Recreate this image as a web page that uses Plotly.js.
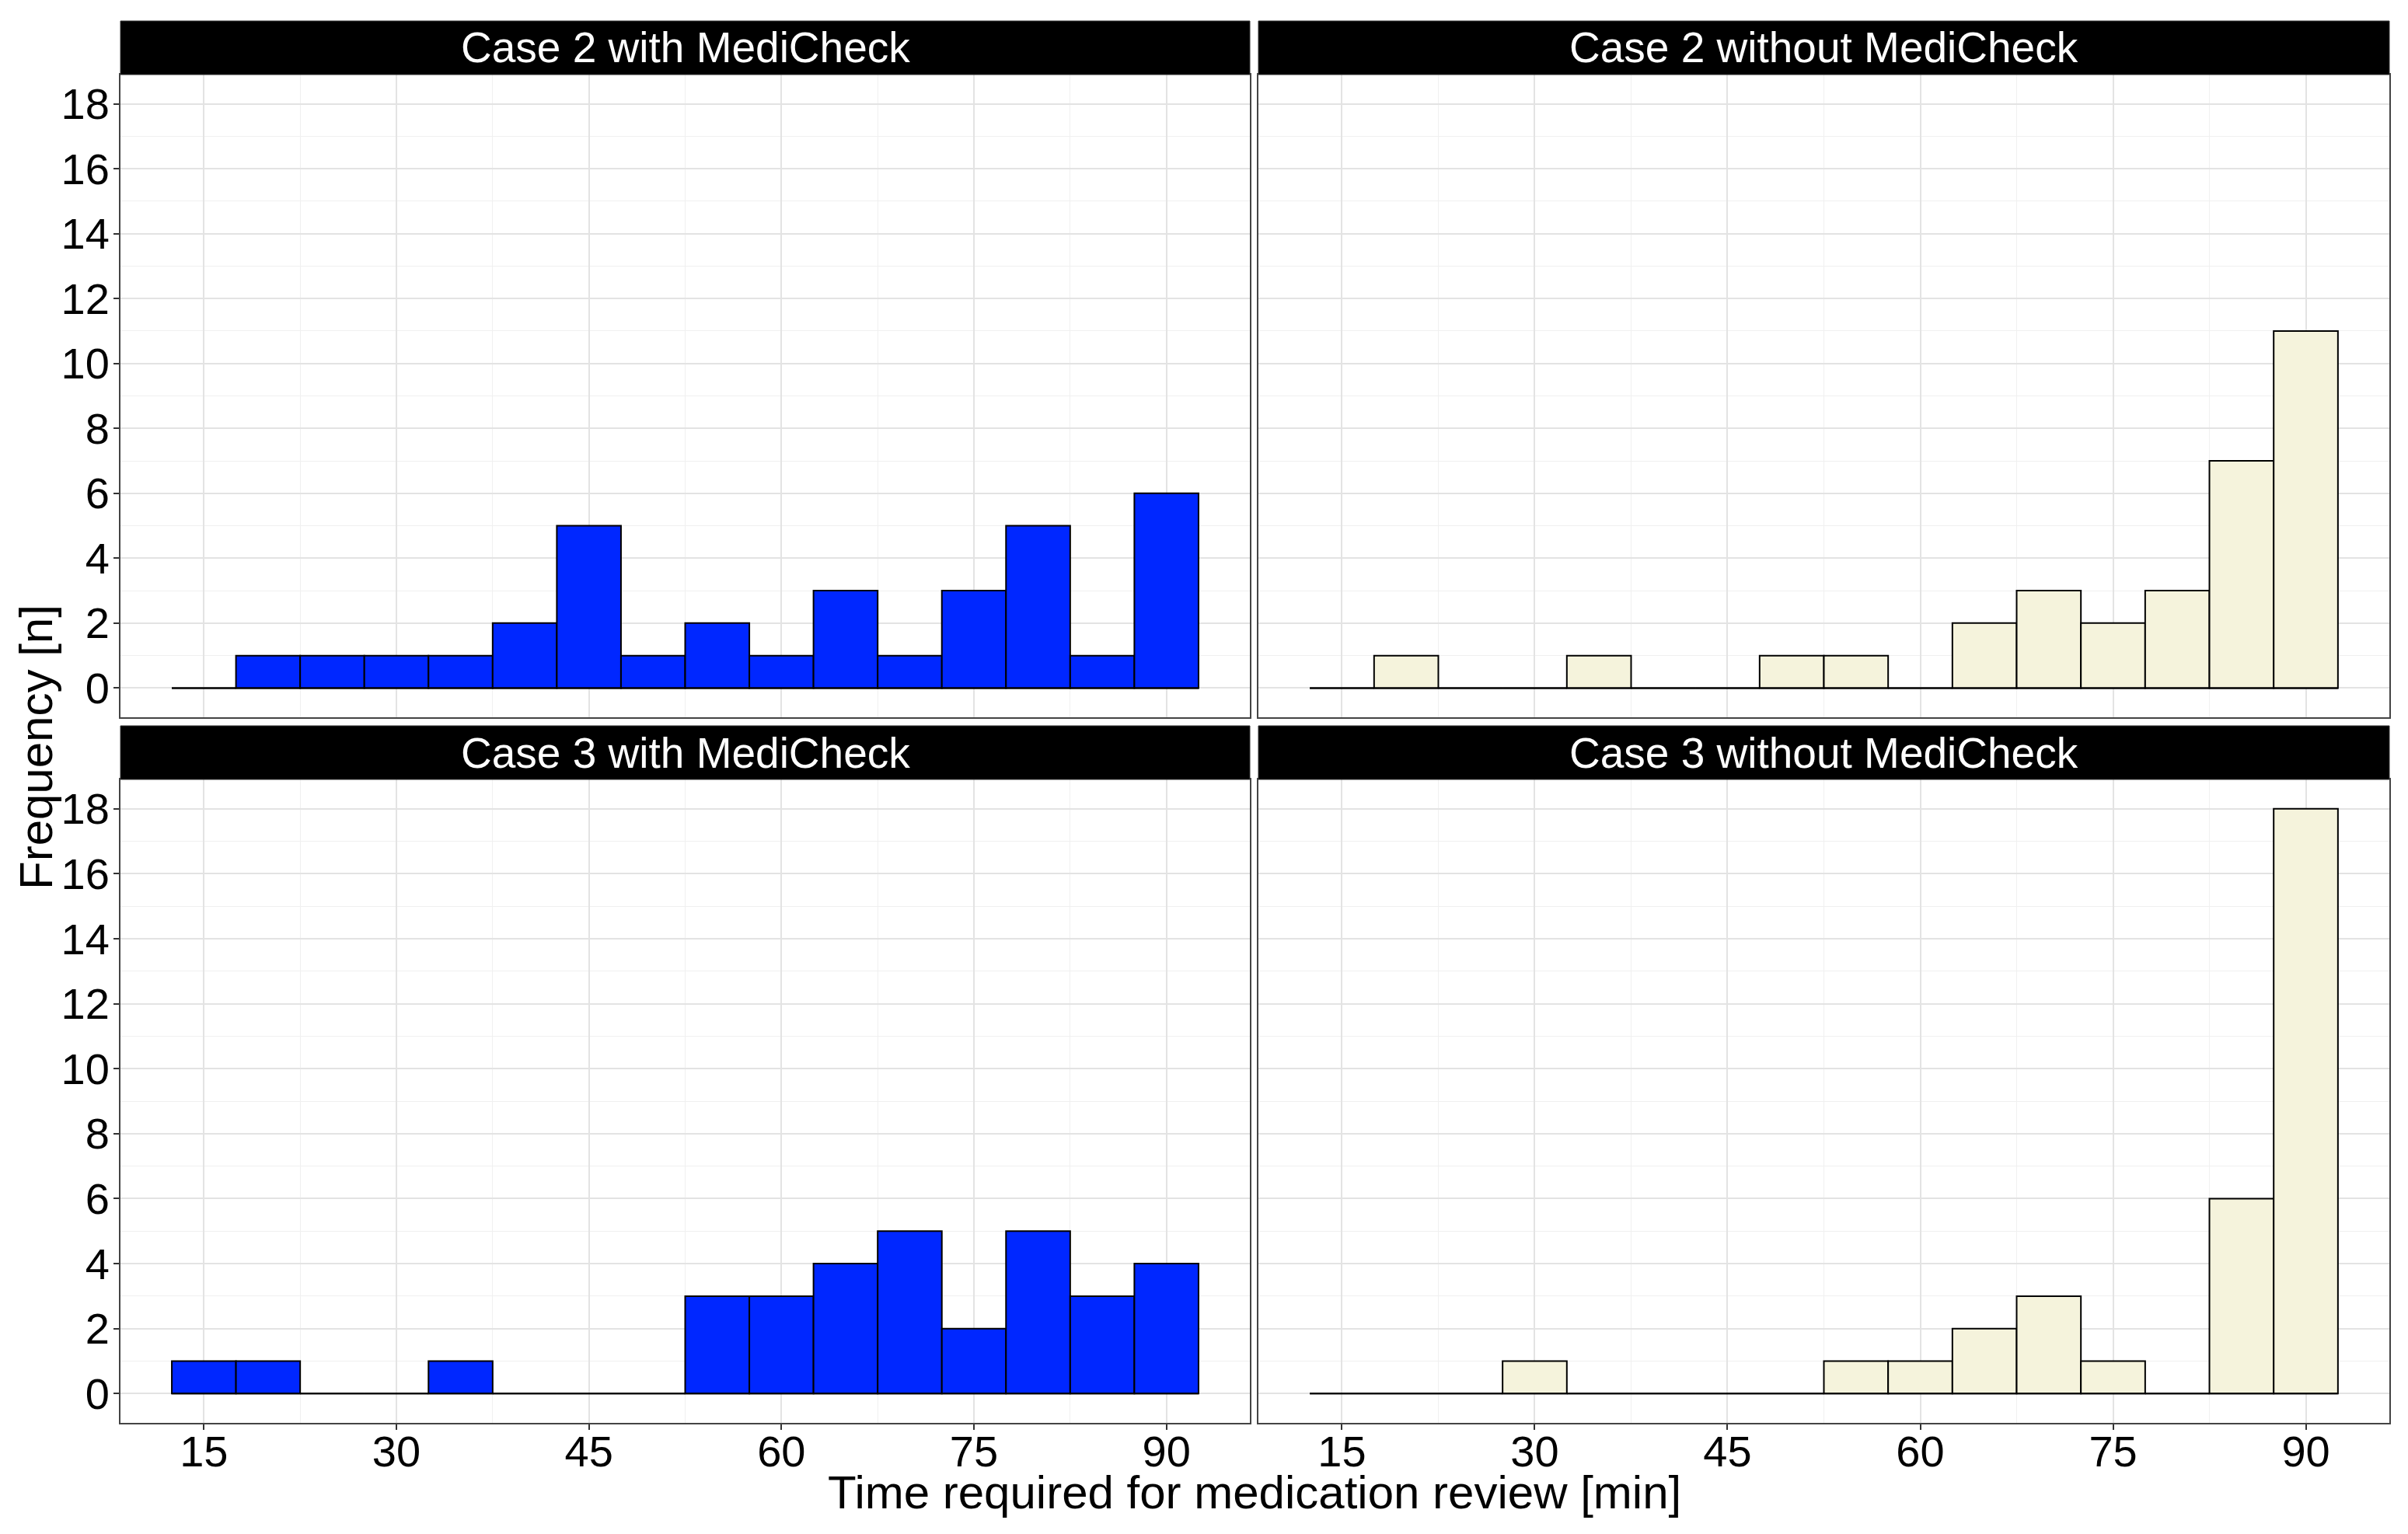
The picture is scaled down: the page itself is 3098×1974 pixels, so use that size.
<!DOCTYPE html>
<html>
<head>
<meta charset="utf-8">
<script src="https://cdn.plot.ly/plotly-3.0.1.min.js"></script>
<style>
  html, body { margin: 0; padding: 0; background: #ffffff; }
  #chart { width: 3098px; height: 1974px; }
</style>
</head>
<body>
<div id="chart"></div>
<script>
// Bin centres (minutes), bin width 5
const binCenters = [15, 20, 25, 30, 35, 40, 45, 50, 55, 60, 65, 70, 75, 80, 85, 90];
const binWidth = 5;

// Counts per bin
const case2With    = [0, 1, 1, 1, 1, 2, 5, 1, 2, 1, 3, 1, 3, 5, 1, 6];
const case2Without = [0, 1, 0, 0, 1, 0, 0, 1, 1, 0, 2, 3, 2, 3, 7, 11];
const case3With    = [1, 1, 0, 0, 1, 0, 0, 0, 3, 3, 4, 5, 2, 5, 3, 4];
const case3Without = [0, 0, 0, 1, 0, 0, 0, 0, 1, 1, 2, 3, 1, 0, 6, 18];

const panelTitles = ["Case 2 with MediCheck", "Case 2 without MediCheck",
                     "Case 3 with MediCheck", "Case 3 without MediCheck"];
const xTickVals = [15, 30, 45, 60, 75, 90];
const yTickVals = [0, 2, 4, 6, 8, 10, 12, 14, 16, 18];
const xTitle = "Time required for medication review [min]";
const yTitle = "Frequency [n]";

const withColor = "#0027FF";
const withoutColor = "#F5F3DC";
const FONT = "Liberation Sans, Arial, Helvetica, sans-serif";

const panels = [
  {data: case2With,    color: withColor,    xa: "x",  ya: "y"},
  {data: case2Without, color: withoutColor, xa: "x2", ya: "y2"},
  {data: case3With,    color: withColor,    xa: "x3", ya: "y3"},
  {data: case3Without, color: withoutColor, xa: "x4", ya: "y4"}
];

const lo = binCenters[0] - binWidth / 2;
const hi = binCenters[binCenters.length - 1] + binWidth / 2;

const traces = [];
panels.forEach(p => {
  traces.push({
    type: "bar", x: binCenters, y: p.data, width: binWidth,
    xaxis: p.xa, yaxis: p.ya,
    marker: {color: p.color, line: {color: "#000000", width: 2}},
    hoverinfo: "x+y", showlegend: false
  });
  // zero-count bins are drawn as a flat outline at y = 0
  traces.push({
    type: "scatter", mode: "lines", x: [lo, hi], y: [0, 0],
    xaxis: p.xa, yaxis: p.ya,
    line: {color: "#000000", width: 2}, hoverinfo: "skip", showlegend: false
  });
});

const W = 3098, H = 1974;
const px = v => v / W;
const py = v => 1 - v / H;

const colX = [[155, 1608], [1619, 3074]];
const rowY = [[96, 923], [1003, 1831]];
const stripY = [[27, 96], [934, 1003]];

const xRange = [lo - 0.05 * (hi - lo), hi + 0.05 * (hi - lo)];
const yMax = Math.max(...case2With, ...case2Without, ...case3With, ...case3Without);
const yRange = [-0.05 * yMax, yMax * 1.05];

function xAxis(col, row) {
  return {
    domain: [px(colX[col][0]), px(colX[col][1])],
    anchor: ["y", "y2", "y3", "y4"][row * 2 + col],
    range: xRange, tickvals: xTickVals, ticktext: xTickVals.map(String),
    showticklabels: row === 1, ticks: row === 1 ? "outside" : "",
    ticklen: 7, tickwidth: 2, tickcolor: "#333333",
    ticklabelstandoff: -20,
    tickfont: {family: FONT, size: 56, color: "#000000"},
    showgrid: true, gridcolor: "#E3E3E3", gridwidth: 2,
    minor: {dtick: 7.5, tick0: 15, showgrid: true, gridcolor: "#F0F0F0", gridwidth: 1, ticks: ""},
    showline: true, mirror: true, linecolor: "#444444", linewidth: 2,
    zeroline: false, fixedrange: true
  };
}
function yAxis(col, row) {
  return {
    domain: [py(rowY[row][1]), py(rowY[row][0])],
    anchor: ["x", "x2", "x3", "x4"][row * 2 + col],
    range: yRange, tickvals: yTickVals, ticktext: yTickVals.map(String),
    showticklabels: col === 0, ticks: col === 0 ? "outside" : "",
    ticklen: 7, tickwidth: 2, tickcolor: "#333333",
    ticklabelstandoff: -6,
    tickfont: {family: FONT, size: 56, color: "#000000"},
    showgrid: true, gridcolor: "#E3E3E3", gridwidth: 2,
    minor: {dtick: 1, tick0: 0, showgrid: true, gridcolor: "#F0F0F0", gridwidth: 1, ticks: ""},
    showline: true, mirror: true, linecolor: "#444444", linewidth: 2,
    zeroline: false, fixedrange: true
  };
}

const shapes = [];
const annotations = [];
for (let row = 0; row < 2; row++) {
  for (let col = 0; col < 2; col++) {
    shapes.push({
      type: "rect", xref: "paper", yref: "paper",
      x0: px(colX[col][0]), x1: px(colX[col][1]),
      y0: py(stripY[row][1]), y1: py(stripY[row][0]),
      fillcolor: "#000000", line: {color: "#333333", width: 1}, layer: "above"
    });
    annotations.push({
      xref: "paper", yref: "paper",
      x: px((colX[col][0] + colX[col][1]) / 2),
      y: py((stripY[row][0] + stripY[row][1]) / 2),
      xanchor: "center", yanchor: "middle",
      text: panelTitles[row * 2 + col], showarrow: false,
      font: {family: FONT, size: 55, color: "#FFFFFF"}
    });
  }
}
annotations.push({
  xref: "paper", yref: "paper", x: px(1614), y: py(1920),
  xanchor: "center", yanchor: "middle", text: xTitle, showarrow: false,
  font: {family: FONT, size: 60, color: "#000000"}
});
annotations.push({
  xref: "paper", yref: "paper", x: px(46), y: py(962),
  xanchor: "center", yanchor: "middle", text: yTitle, showarrow: false, textangle: -90,
  font: {family: FONT, size: 60, color: "#000000"}
});

const layout = {
  width: W, height: H,
  margin: {l: 0, r: 0, t: 0, b: 0},
  paper_bgcolor: "#FFFFFF", plot_bgcolor: "#FFFFFF",
  bargap: 0, showlegend: false,
  font: {family: FONT, color: "#000000"},
  xaxis: xAxis(0, 0), yaxis: yAxis(0, 0),
  xaxis2: xAxis(1, 0), yaxis2: yAxis(1, 0),
  xaxis3: xAxis(0, 1), yaxis3: yAxis(0, 1),
  xaxis4: xAxis(1, 1), yaxis4: yAxis(1, 1),
  shapes: shapes, annotations: annotations
};

Plotly.newPlot("chart", traces, layout, {displayModeBar: false, staticPlot: true});
</script>
</body>
</html>
